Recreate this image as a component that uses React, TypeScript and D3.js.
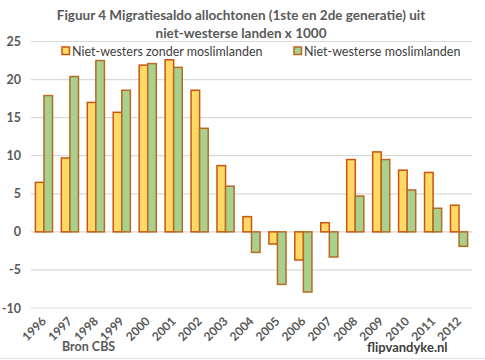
import * as d3 from 'd3'

const years = ['1996','1997','1998','1999','2000','2001','2002','2003','2004','2005','2006','2007','2008','2009','2010','2011','2012']
const zonderMoslim = [6.5, 9.7, 17.0, 15.7, 21.9, 22.6, 18.6, 8.7, 2.0, -1.6, -3.7, 1.2, 9.5, 10.5, 8.1, 7.8, 3.5]
const moslim = [17.9, 20.4, 22.5, 18.6, 22.1, 21.6, 13.6, 6.0, -2.7, -6.9, -7.9, -3.3, 4.7, 9.5, 5.5, 3.1, -1.9]
const yTicks = [-10, -5, 0, 5, 10, 15, 20, 25]
const seriesNames = ['Niet-westers zonder moslimlanden', 'Niet-westerse moslimlanden']

const W = 485
const H = 360
const font = 'Lato, "Liberation Sans", sans-serif'

export default function App() {
  const x = d3.scaleBand<string>()
    .domain(years)
    .range([31, 472])
    .paddingInner(0.34)
    .paddingOuter(0.17)
  const sub = d3.scaleBand<number>()
    .domain([0, 1])
    .range([0, x.bandwidth()])
  const y = d3.scaleLinear().domain([-10, 25]).range([308, 41.5])

  const fills = ['#FFD966', '#A9D18E']
  const strokes = ['#C9550F', '#B86A22']
  const series = [zonderMoslim, moslim]

  return (
    <svg width={W} height={H} style={{ position: 'absolute', left: 0, top: 0, background: '#fff' }}>
      <rect x={0} y={0} width={W} height={H} fill="#fff" />
      {/* title */}
      <text x={241} y={20} textAnchor="middle" fontFamily={font} fontWeight="bold" fontSize={13.5} fill="#595959">
        Figuur 4 Migratiesaldo allochtonen (1ste en 2de generatie) uit
      </text>
      <text x={241} y={38} textAnchor="middle" fontFamily={font} fontWeight="bold" fontSize={13.5} fill="#595959">
        niet-westerse landen x 1000
      </text>

      {/* grid + y labels */}
      {yTicks.map(t => (
        <g key={t}>
          <line x1={31} x2={472} y1={y(t)} y2={y(t)} stroke="#D9D9D9" strokeWidth={1.2} />
          <text x={21} y={y(t) + 4.5} textAnchor="end" fontFamily={font} fontWeight="bold" fontSize={12.5} fill="#595959">{t}</text>
        </g>
      ))}

      {/* bars */}
      {series.map((vals, si) => (
        <g key={si}>
          {vals.map((v, i) => {
            const bx = (x(years[i]) ?? 0) + (sub(si) ?? 0)
            const y0 = y(Math.max(0, v))
            const y1 = y(Math.min(0, v))
            return (
              <rect key={i} x={bx} y={y0} width={sub.bandwidth()} height={y1 - y0}
                fill={fills[si]} stroke={strokes[si]} strokeWidth={1.5} />
            )
          })}
        </g>
      ))}

      {/* legend */}
      {seriesNames.map((name, si) => {
        const lx = si === 0 ? 62 : 294
        return (
          <g key={name}>
            <rect x={lx} y={47} width={7.5} height={7.5} fill={fills[si]} stroke={strokes[si]} strokeWidth={1.5} />
            <text x={lx + 10} y={55.5} fontFamily={font} fontSize={12.5} fill="#404040">{name}</text>
          </g>
        )
      })}

      {/* x labels */}
      {years.map(yr => {
        const cx = (x(yr) ?? 0) + x.bandwidth() / 2 + 3
        return (
          <text key={yr} transform={`translate(${cx},322) rotate(-45)`} textAnchor="end"
            fontFamily={font} fontWeight="bold" fontSize={12} fill="#595959">{yr}</text>
        )
      })}

      <text x={62} y={351} fontFamily={font} fontWeight="bold" fontSize={12.5} fill="#595959">Bron CBS</text>
      <text x={367} y={352} fontFamily={font} fontWeight="bold" fontSize={13} fill="#404040">flipvandyke.nl</text>
      <line x1={0} x2={W} y1={358.5} y2={358.5} stroke="#E0E0E0" strokeWidth={1} />
    </svg>
  )
}
